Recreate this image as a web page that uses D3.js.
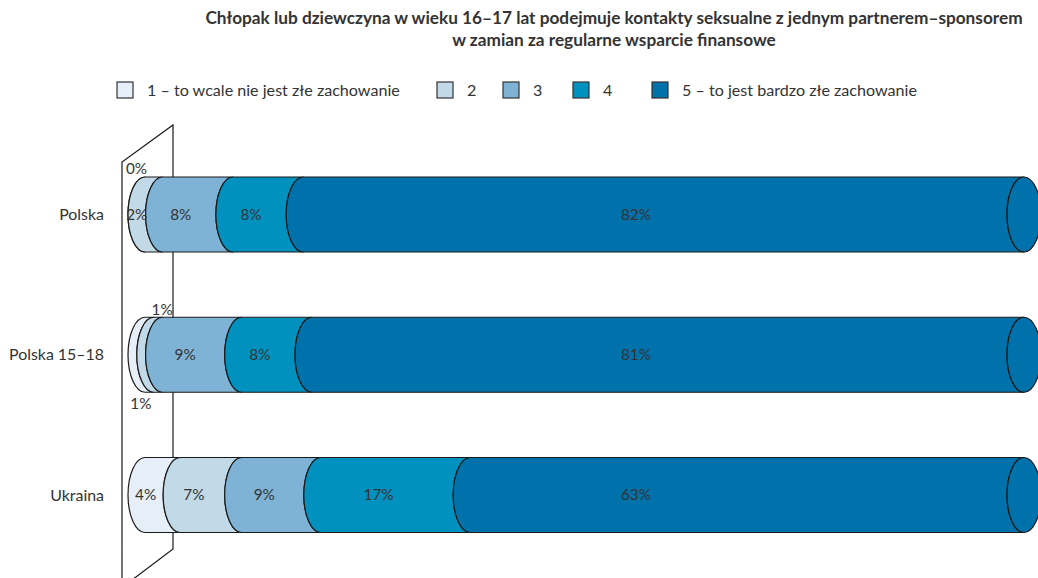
<!DOCTYPE html>
<html>
<head>
<meta charset="utf-8">
<script src="https://cdn.jsdelivr.net/npm/d3@7"></script>
<style>
  html, body { margin: 0; padding: 0; background: #fff; }
  svg { display: block; }
  text { font-family: Lato, "Open Sans", sans-serif; fill: #333; }
</style>
</head>
<body>
<svg id="chart" width="1038" height="578"></svg>
<script>
// ---- data ----
const titleLines = [
  "Chłopak lub dziewczyna w wieku 16–17 lat podejmuje kontakty seksualne z jednym partnerem–sponsorem",
  "w zamian za regularne wsparcie finansowe"
];
const categories = ["Polska", "Polska 15–18", "Ukraina"];
const seriesNames = [
  "1 – to wcale nie jest złe zachowanie",
  "2",
  "3",
  "4",
  "5 – to jest bardzo złe zachowanie"
];
const s1 = [0, 1, 4];
const s2 = [2, 1, 7];
const s3 = [8, 9, 9];
const s4 = [8, 8, 17];
const s5 = [82, 81, 63];
const series = [s1, s2, s3, s4, s5];
const colors = ["#e6eef7", "#c2d9e8", "#7fb3d5", "#0091bf", "#0072ab"];

// ---- layout ----
const svg = d3.select("#chart");
const W = 1038, H = 578;
const x = d3.scaleLinear().domain([0, 100]).range([145, 1024]);
const y = d3.scalePoint().domain(categories).range([214.5, 495]);
const barH = 75;
const rx = 17, ry = barH / 2;
const stroke = "#1a1a1a";

// fit a text element's font size to a target width
function fitWidth(sel, base, target) {
  sel.attr("font-size", base);
  const w = sel.node().getComputedTextLength();
  const fs = base * target / w;
  sel.attr("font-size", fs);
  return fs;
}

// wall (3D floor)
const wallFront = 122, wallBack = 173;
const wall = svg.append("g").attr("fill", "none").attr("stroke", stroke).attr("stroke-width", 1.2);
wall.append("path").attr("d", `M${wallFront},${H + 2} L${wallFront},162 L${wallBack},125 L${wallBack},549 L132,${H + 2}`);

// ---- bars ----
const rows = categories.map((c, i) => {
  let cum = 0;
  return series.map((s, k) => {
    const seg = { cat: c, k, v: s[i], start: cum, end: cum + s[i] };
    cum += s[i];
    return seg;
  });
});

// value label font size, fitted to reference label width
const probe = svg.append("text").text("82%");
const valueFs = fitWidth(probe, 14, 30);
probe.remove();

const barsG = svg.append("g");
rows.forEach((segs) => {
  const cy = y(segs[0].cat);
  const top = cy - ry, bot = cy + ry;
  const g = barsG.append("g");
  g.selectAll("path.seg").data(segs).join("path")
    .attr("class", "seg")
    .attr("d", d => {
      const x0 = x(d.start), x1 = x(d.end);
      return `M${x0},${top} A${rx},${ry} 0 0 0 ${x0},${bot} L${x1},${bot} A${rx},${ry} 0 0 1 ${x1},${top} Z`;
    })
    .attr("fill", d => colors[d.k])
    .attr("stroke", stroke).attr("stroke-width", 1.2).attr("stroke-linejoin", "round");
  // right end cap
  g.append("ellipse")
    .attr("cx", x(100)).attr("cy", cy).attr("rx", rx).attr("ry", ry)
    .attr("fill", colors[4]).attr("stroke", stroke).attr("stroke-width", 1.2);

  // labels
  segs.forEach((d, j) => {
    const small = d.v <= 1;
    let lx, ly;
    if (small) {
      const nextSmall = j + 1 < segs.length && segs[j + 1].v <= 1;
      if (nextSmall) { lx = x((d.start + d.end) / 2) - rx / 2; ly = bot + 11; }
      else { lx = x(d.end) - rx / 2 + (d.start > 0 ? 8 : 0); ly = top - 8; }
    } else if (j === segs.length - 1) {
      lx = 636; ly = cy;
    } else {
      lx = x((d.start + d.end) / 2) - rx; ly = cy;
    }
    g.append("text")
      .attr("x", lx).attr("y", ly).attr("dy", "0.35em")
      .attr("text-anchor", "middle")
      .attr("font-size", valueFs)
      .text(d.v + "%");
  });
});

// category labels
const catG = svg.append("g");
const catText = catG.selectAll("text").data(categories).join("text")
  .attr("x", 104).attr("y", d => y(d)).attr("dy", "0.35em")
  .attr("text-anchor", "end")
  .text(d => d);
const catFs = fitWidth(d3.select(catText.nodes()[1]), 14, 95);
catText.attr("font-size", catFs);

// ---- legend ----
const legendX = [117, 437, 503, 573, 652];
const leg = svg.append("g");
let legFs = 14;
seriesNames.forEach((n, k) => {
  leg.append("rect").attr("x", legendX[k]).attr("y", 82).attr("width", 16).attr("height", 16)
    .attr("fill", colors[k]).attr("stroke", "#333").attr("stroke-width", 1.2);
  const t = leg.append("text").attr("x", legendX[k] + 30).attr("y", 90).attr("dy", "0.35em")
    .text(n);
  if (k === 0) legFs = fitWidth(t, 14, 253);
  else t.attr("font-size", legFs);
});

// ---- title ----
const title = svg.append("g");
const t1 = title.append("text").attr("x", 614).attr("y", 24).attr("text-anchor", "middle")
  .attr("font-weight", "bold").text(titleLines[0]);
const fs = fitWidth(t1, 14, 818);
title.append("text").attr("x", 614).attr("y", 46).attr("text-anchor", "middle")
  .attr("font-weight", "bold").attr("font-size", fs).text(titleLines[1]);
</script>
</body>
</html>
